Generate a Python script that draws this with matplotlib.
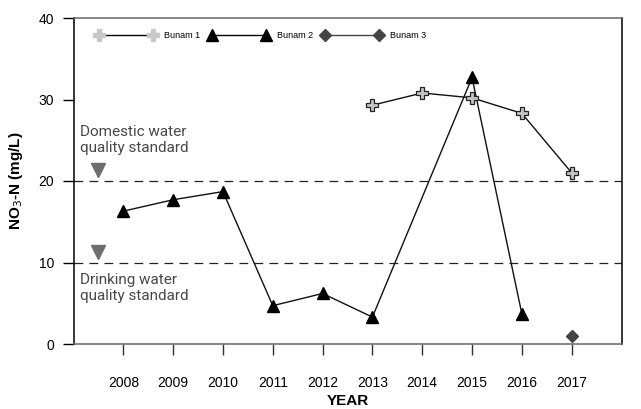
import numpy as np
import matplotlib
matplotlib.use("Agg")
from matplotlib import pyplot as plt
from matplotlib.lines import Line2D

# datos
years = [2008, 2009, 2010, 2011, 2012, 2013, 2014, 2015, 2016, 2017]
bunam1_years = [2013, 2014, 2015, 2016, 2017]
bunam1 = [29.3, 30.8, 30.2, 28.3, 21.0]
bunam2_years = [2008, 2009, 2010, 2011, 2012, 2013, 2015, 2016]
bunam2 = [16.3, 17.7, 18.7, 4.7, 6.2, 3.3, 32.7, 3.7]
bunam3_years = [2017]
bunam3 = [1.0]
domestic_std = 20
drinking_std = 10

plt.rcParams['font.family'] = ['Liberation Sans', 'DejaVu Sans']

fig = plt.figure(figsize=(6.41, 4.09), dpi=100)
ax = fig.add_axes([73.5/641, 65/409, 548/641, 326/409])

# lineas de norma
ax.axhline(domestic_std, color='#222222', lw=0.9, dashes=(7, 5))
ax.axhline(drinking_std, color='#222222', lw=0.9, dashes=(7, 5))
ax.plot([2007.5], [domestic_std + 1.3], marker='v', color='#6e6e6e', ms=10, ls='none')
ax.plot([2007.5], [drinking_std + 1.3], marker='v', color='#6e6e6e', ms=10, ls='none')
ax.text(2007.14, 25.0, "Domestic water\nquality standard", fontsize=11, color='#484848',
        va='center', ha='left', family=['Roboto', 'DejaVu Sans'],
        linespacing=1.2)
ax.text(2007.14, 6.9, "Drinking water\nquality standard", fontsize=11, color='#484848',
        va='center', ha='left', family=['Roboto', 'DejaVu Sans'],
        linespacing=1.2)

# series
ax.plot(bunam1_years, bunam1, color='#111111', lw=1.0, marker='P', ms=9,
        mfc='#c4c4c4', mec='#222222', mew=0.9, zorder=4)
ax.plot(bunam2_years, bunam2, color='#111111', lw=1.0, marker='^', ms=9,
        mfc='black', mec='black', zorder=3)
ax.plot(bunam3_years, bunam3, color='#444444', lw=1.0, marker='D', ms=6.5,
        mfc='#444444', mec='#444444', zorder=3)

# leyenda
handles = [
    Line2D([], [], color='black', lw=1.0, marker='P', ms=8, mfc='#c8c8c8', mec='#c8c8c8'),
    Line2D([], [], color='black', lw=1.0, marker='^', ms=8, mfc='black', mec='black'),
    Line2D([], [], color='#444444', lw=1.0, marker='D', ms=6, mfc='#444444', mec='#444444'),
]
ax.legend(handles, ['Bunam 1', 'Bunam 2', 'Bunam 3'], ncol=3, numpoints=2,
          loc='upper left', bbox_to_anchor=(0.027, 0.985), frameon=False,
          fontsize=6.5, handlelength=6.6, handletextpad=0.9, columnspacing=1.0)

ax.set_xlim(2007, 2018)
ax.set_ylim(0, 40)
ax.set_xticks(years)
ax.set_yticks([0, 10, 20, 30, 40])
ax.tick_params(axis='x', direction='out', length=8, width=1, color='#333333',
               labelsize=10, pad=15)
ax.tick_params(axis='y', direction='out', length=8, width=1, color='black',
               labelsize=10, pad=6)

ax.spines['top'].set_color('#666666')
ax.spines['bottom'].set_color('#666666')
ax.spines['left'].set_color('black')
ax.spines['right'].set_color('black')
for s in ax.spines.values():
    s.set_linewidth(1.1)

ax.set_xlabel('YEAR', fontsize=11, fontweight='bold', labelpad=3)
ax.set_ylabel('NO$_3$-N (mg/L)', fontsize=11, fontweight='bold', labelpad=10)

fig.savefig('out.png', dpi=100)
